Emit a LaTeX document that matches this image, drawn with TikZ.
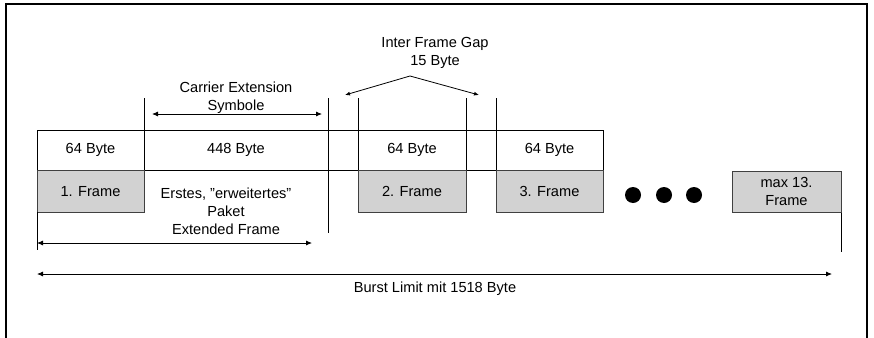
\documentclass[tikz,border=0pt]{standalone}
\usepackage{fontspec}
\setmainfont{Liberation Sans}
\usetikzlibrary{arrows.meta}

\tikzset{
	cell/.style={draw, minimum height=40.5pt, inner sep=0pt, outer sep=0pt, anchor=north west},
	frm/.style={draw=black!75, fill=gray!35, minimum height=41.5pt, inner sep=0pt, outer sep=0pt, align=center, anchor=north west},
	bigdot/.style={circle, fill=black, minimum size=16pt, inner sep=0pt},
	dim/.style={{Latex[length=6pt,width=5pt]}-{Latex[length=6pt,width=5pt]}},
	pointer/.style={-{Latex[length=5pt,width=4pt]}},
}

\begin{document}
\begin{tikzpicture}[x=1pt, y=-1pt, font=\fontsize{14.6}{18}\selectfont, line width=0.8pt]
	\useasboundingbox (0,0) rectangle (874,337);
	\draw[line width=2pt] (5.5,345) -- (5.5,4.5) -- (867,4.5) -- (867,345);
	% byte row
	\node[cell, minimum width=107pt] (c1) at (37,130) {64 Byte};
	\node[cell, minimum width=184pt] (c2) at (c1.north east) {448 Byte};
	\node[cell, minimum width=30pt] (g1) at (c2.north east) {};
	\node[cell, minimum width=108pt] (c3) at (g1.north east) {64 Byte};
	\node[cell, minimum width=30pt] (g2) at (c3.north east) {};
	\node[cell, minimum width=107pt] (c4) at (g2.north east) {64 Byte};
	% frames
	\node[frm, minimum width=107pt] (f1) at (c1.south west) {1. Frame};
	\node[frm, minimum width=108pt] (f2) at (c3.south west) {2. Frame};
	\node[frm, minimum width=107pt] (f3) at (c4.south west) {3. Frame};
	\node[frm, minimum width=109pt] (f13) at (732,171) {max 13.\\Frame};
	\node[bigdot] (d1) at (633,195) {};
	\node[bigdot] (d2) at (664,195) {};
	\node[bigdot] (d3) at (694,195) {};
	% marker lines
	\draw (c2.north west) -- ++(0,-32);
	\draw (c2.north east) -- ++(0,-32);
	\draw (g1.north east) -- ++(0,-32);
	\draw (c3.north east) -- ++(0,-32);
	\draw (g2.north east) -- ++(0,-32);
	\draw (c2.south east) -- ++(0,62);
	\draw (f1.south west) -- ++(0,38);
	\draw (f13.south east) -- ++(0,39);
	% carrier extension
	\node[align=center] (ce) at (236,98) {Carrier Extension\\Symbole};
	\coordinate (ce1) at (152,114);
	\coordinate (ce2) at (322,114);
	\draw[dim] (ce1) -- (ce2);
	% inter frame gap
	\node[align=center] (ifg) at (435,53) {Inter Frame Gap\\15 Byte};
	\coordinate (apex) at (410,76);
	\coordinate (gapL) at (345,95);
	\coordinate (gapR) at (479,95);
	\draw[pointer] (apex) -- (gapL);
	\draw[pointer] (apex) -- (gapR);
	% extended frame
	\node[align=center] (ext) at (226,211) {Erstes, \char34 erweitertes\char34\\Paket\\Extended Frame};
	\coordinate (ex1) at (37,243);
	\coordinate (ex2) at (312,243);
	\draw[dim] (ex1) -- (ex2);
	% burst limit
	\coordinate (bl1) at (37,274);
	\coordinate (bl2) at (832,274);
	\draw[dim] (bl1) -- (bl2);
	\node (burst) at (435,289) {Burst Limit mit 1518 Byte};
\end{tikzpicture}
\end{document}
